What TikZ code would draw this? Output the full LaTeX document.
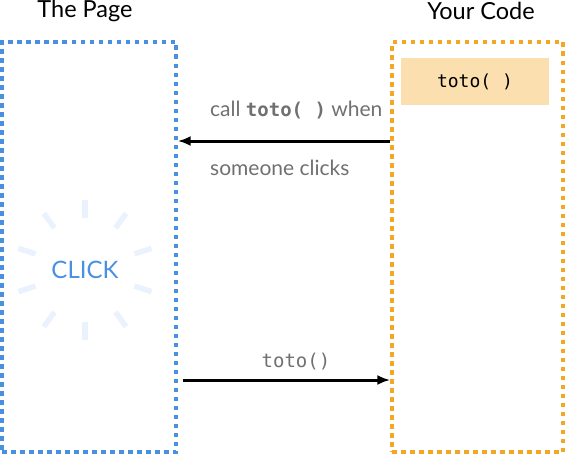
\documentclass[tikz,border=0pt]{standalone}
\usepackage{fontspec}
\setmainfont{Lato}
\setmonofont{DejaVu Sans Mono}
\usetikzlibrary{arrows.meta,positioning}
\definecolor{pgblue}{HTML}{4A90E2}
\definecolor{cdorange}{HTML}{F5A623}
\definecolor{cdfill}{HTML}{FBDFAE}
\definecolor{lblgray}{HTML}{707070}
\definecolor{rayblue}{HTML}{EAF3FD}

\begin{document}
\begin{tikzpicture}[
  x=1pt, y=-1pt,
  panel/.style={line width=3.4pt, dash pattern=on 4.5pt off 4.5pt,
                minimum height=410pt, inner sep=0pt},
  title/.style={font=\fontsize{23.5}{28}\selectfont, text=black},
  fnbox/.style={fill=cdfill, minimum width=148pt, minimum height=47pt,
                font=\fontsize{18}{22}\selectfont\ttfamily, inner sep=0pt},
  lbl/.style={text=lblgray, font=\fontsize{21}{25}\selectfont, anchor=west, inner sep=0pt},
  arr/.style={-{Latex[length=13pt,width=10pt]}, line width=3pt, black},
  ray/.style={rayblue, line width=5.5pt}
]
\useasboundingbox (0,0) rectangle (568,455);

% --- the two panels ---
\node[panel, draw=pgblue, minimum width=174pt] (page) at (89,247) {};
\node[panel, draw=cdorange, minimum width=171pt] (code) at (477.5,247) {};

\node[title] (pagetitle) at (85,11) {The Page};
\node[title] (codetitle) at (481,11) {Your Code};

% --- function box ---
\node[fnbox] (toto) at (475,81.5) {toto( )};

% --- click burst ---
\node[text=pgblue, font=\fontsize{24}{28}\selectfont] (click) at (85,270) {CLICK};
\foreach \a in {90,54,18,-18,-54,-90,-126,-162,162,126}
  \draw[ray] ([shift={(\a:-52pt)}]click.center) -- ([shift={(\a:-70pt)}]click.center);

% --- registering the handler ---
\coordinate (callrow) at (0,141);
\draw[arr] (code.west |- callrow) -- (page.east |- callrow);
\node[lbl] (calltxt) at (210,110)
  {call \textbf{\ttfamily\fontsize{19}{23}\selectfont toto( )} when};
\node[lbl] (clicktxt) at (210,168) {someone clicks};

% --- the call ---
\coordinate (firerow) at (0,380);
\draw[arr] ([xshift=5pt]page.east |- firerow) -- (code.west |- firerow);
\node[text=lblgray, font=\fontsize{19}{23}\selectfont\ttfamily] (firetxt) at (296,362) {toto()};

\end{tikzpicture}
\end{document}
